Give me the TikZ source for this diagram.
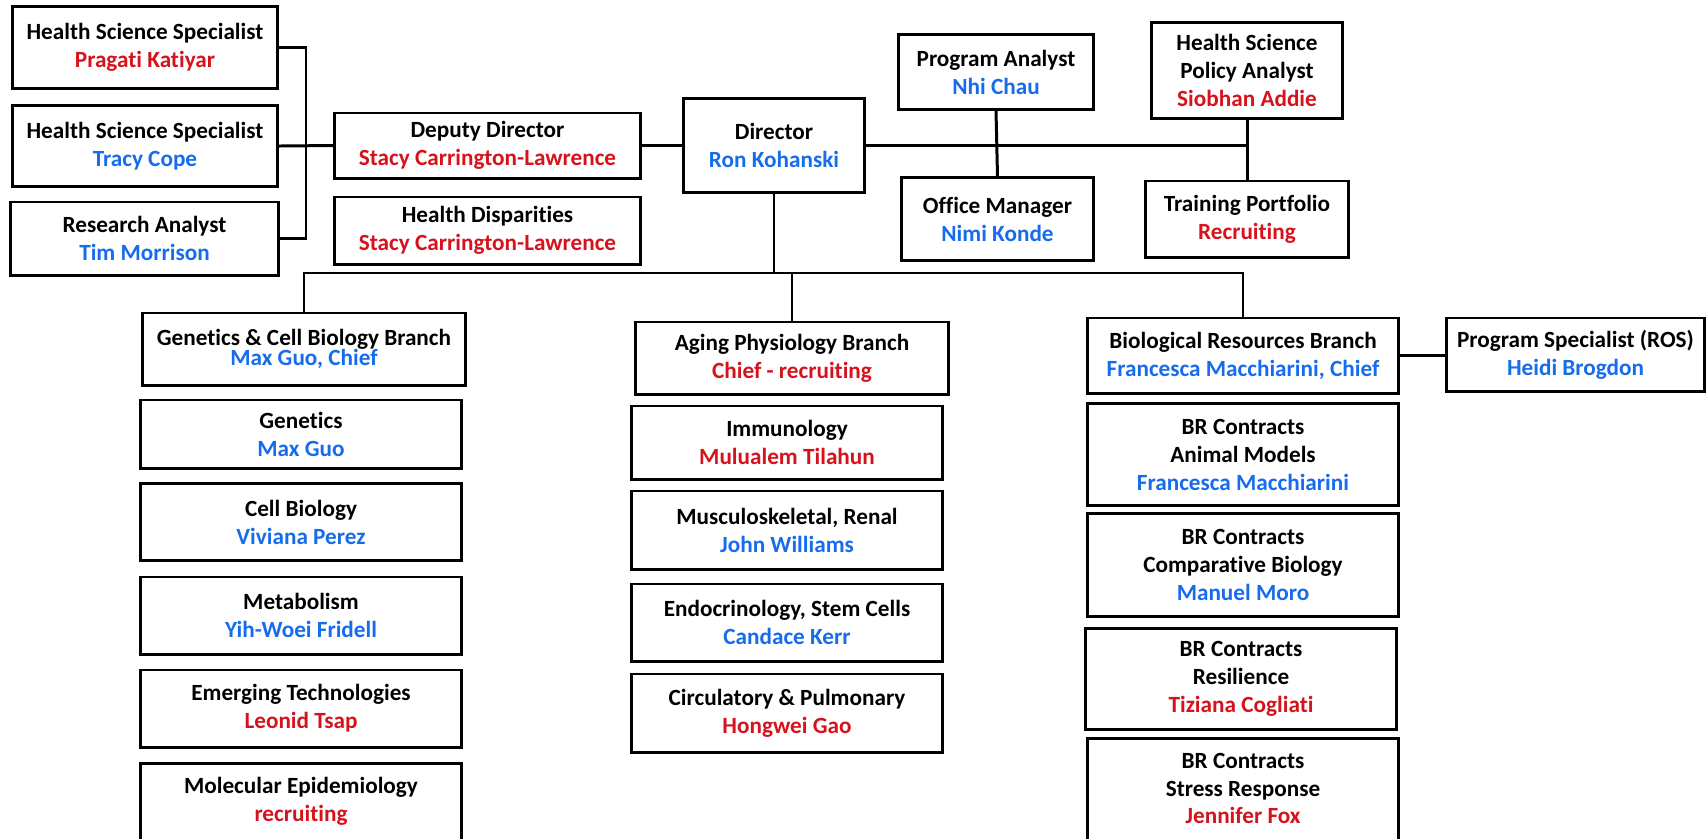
\documentclass[tikz,border=0pt]{standalone}
\usepackage{fontspec}
\setmainfont{Carlito}[Ligatures=NoCommon]
\usetikzlibrary{positioning}
\definecolor{nred}{RGB}{214,18,28}
\definecolor{nblue}{RGB}{22,108,236}

\begin{document}
\begin{tikzpicture}[x=0.01cm, y=-0.01cm,
    box/.style={draw, line width=0.85pt, align=center, inner sep=0pt,
      font=\bfseries\fontsize{6.6}{7.95}\selectfont},
    link/.style={line width=0.85pt},
    thin link/.style={line width=0.6pt}]
  \useasboundingbox (0,0) rectangle (1706,838);

  % office of the director
  \node[box, minimum width=2.65cm, minimum height=0.81cm] (hss1) at (145,47.5) {Health Science Specialist\\\textcolor{nred}{Pragati Katiyar}};
  \node[box, minimum width=2.65cm, minimum height=0.80cm] (hss2) at (145,146) {Health Science Specialist\\\textcolor{nblue}{Tracy Cope}};
  \node[box, minimum width=2.67cm, minimum height=0.73cm] (ra) at (144.5,238.5) {Research Analyst\\\textcolor{nblue}{Tim Morrison}};
  \node[box, minimum width=3.05cm, minimum height=0.65cm] (dep) at (487.5,145.5) {Deputy Director\\\textcolor{nred}{Stacy Carrington-Lawrence}};
  \node[box, minimum width=3.05cm, minimum height=0.67cm] (hd) at (487.5,230.5) {Health Disparities\\\textcolor{nred}{Stacy Carrington-Lawrence}};
  \node[box, minimum width=1.80cm, minimum height=0.93cm] (dir) at (774,145.5) {Director\\\textcolor{nblue}{Ron Kohanski}};
  \node[box, minimum width=1.94cm, minimum height=0.74cm] (pa) at (996,72) {Program Analyst\\\textcolor{nblue}{Nhi Chau}};
  \node[box, minimum width=1.91cm, minimum height=0.82cm] (om) at (997.5,219) {Office Manager\\\textcolor{nblue}{Nimi Konde}};
  \node[box, minimum width=1.90cm, minimum height=0.95cm] (hspa) at (1247,70.5) {Health Science\\Policy Analyst\\\textcolor{nred}{Siobhan Addie}};
  \node[box, minimum width=2.02cm, minimum height=0.76cm] (tp) at (1247,219) {Training Portfolio\\\textcolor{nred}{Recruiting}};

  % genetics & cell biology
  \node[box, minimum width=3.22cm, minimum height=0.72cm, font=\bfseries\fontsize{6.6}{5.8}\selectfont] (gcb) at (304,349) {Genetics \& Cell Biology Branch\\\textcolor{nblue}{Max Guo, Chief}};
  \node[box, minimum width=3.20cm, minimum height=0.68cm] (gen) at (301,434) {Genetics\\\textcolor{nblue}{Max Guo}};
  \node[box, minimum width=3.20cm, minimum height=0.77cm] (cell) at (301,522) {Cell Biology\\\textcolor{nblue}{Viviana Perez}};
  \node[box, minimum width=3.20cm, minimum height=0.77cm] (met) at (301,615.5) {Metabolism\\\textcolor{nblue}{Yih-Woei Fridell}};
  \node[box, minimum width=3.20cm, minimum height=0.77cm] (emer) at (301,708.5) {Emerging Technologies\\\textcolor{nred}{Leonid Tsap}};
  \node[box, minimum width=3.20cm, anchor=north] (mol) at (301,762) {\rule{0pt}{8.6pt}Molecular Epidemiology\\\textcolor{nred}{recruiting}\rule[-7pt]{0pt}{7pt}};

  % aging physiology
  \node[box, minimum width=3.12cm, minimum height=0.72cm] (aging) at (792,358) {Aging Physiology Branch\\\textcolor{nred}{Chief - recruiting}};
  \node[box, minimum width=3.10cm, minimum height=0.73cm] (imm) at (787,442.5) {Immunology\\\textcolor{nred}{Mulualem Tilahun}};
  \node[box, minimum width=3.10cm, minimum height=0.78cm] (mus) at (787,530) {Musculoskeletal, Renal\\\textcolor{nblue}{John Williams}};
  \node[box, minimum width=3.10cm, minimum height=0.77cm] (endo) at (787,622.5) {Endocrinology, Stem Cells\\\textcolor{nblue}{Candace Kerr}};
  \node[box, minimum width=3.10cm, minimum height=0.78cm] (circ) at (787,713) {Circulatory \& Pulmonary\\\textcolor{nred}{Hongwei Gao}};

  % biological resources
  \node[box, minimum width=3.10cm, minimum height=0.75cm] (brb) at (1243,355.5) {Biological Resources Branch\\\textcolor{nblue}{Francesca Macchiarini, Chief}};
  \node[box, minimum width=2.57cm, minimum height=0.73cm] (ps) at (1575.5,354.5) {Program Specialist (ROS)\\\textcolor{nblue}{Heidi Brogdon}};
  \node[box, minimum width=3.10cm, minimum height=1.01cm] (anim) at (1243,454.5) {BR Contracts\\Animal Models\\\textcolor{nblue}{Francesca Macchiarini}};
  \node[box, minimum width=3.10cm, minimum height=1.02cm] (comp) at (1243,565) {BR Contracts\\Comparative Biology\\\textcolor{nblue}{Manuel Moro}};
  \node[box, minimum width=3.10cm, minimum height=1.00cm] (res) at (1241,679) {BR Contracts\\Resilience\\\textcolor{nred}{Tiziana Cogliati}};
  \node[box, minimum width=3.10cm, anchor=north] (stress) at (1243,737) {\rule{0pt}{8.4pt}BR Contracts\\Stress Response\\\textcolor{nred}{Jennifer Fox}\rule[-7pt]{0pt}{7pt}};

  % links
  \coordinate (brk) at (306,143);
  \coordinate (bus) at (0,273);
  \draw[link] (hss1.east) -| (brk) |- (ra.east);
  \draw[link] (hss2.east) -- (dep.west);
  \draw[link] (dep.east) -- (dir.west);
  \draw[line width=1.1pt] (dir.east) -- (hspa.south |- dir.east);
  \draw[link] (pa.south) -- (om.north);
  \draw[link] (hspa.south) -- (tp.north);
  \draw[thin link] (dir.south) -- (dir.south |- bus);
  \draw[thin link] (gcb.north) |- (brb.north |- bus) -- (brb.north);
  \draw[thin link] (aging.north) -- (aging.north |- bus);
  \draw[link] (brb.east) -- (brb.east -| ps.west);
\end{tikzpicture}
\end{document}
